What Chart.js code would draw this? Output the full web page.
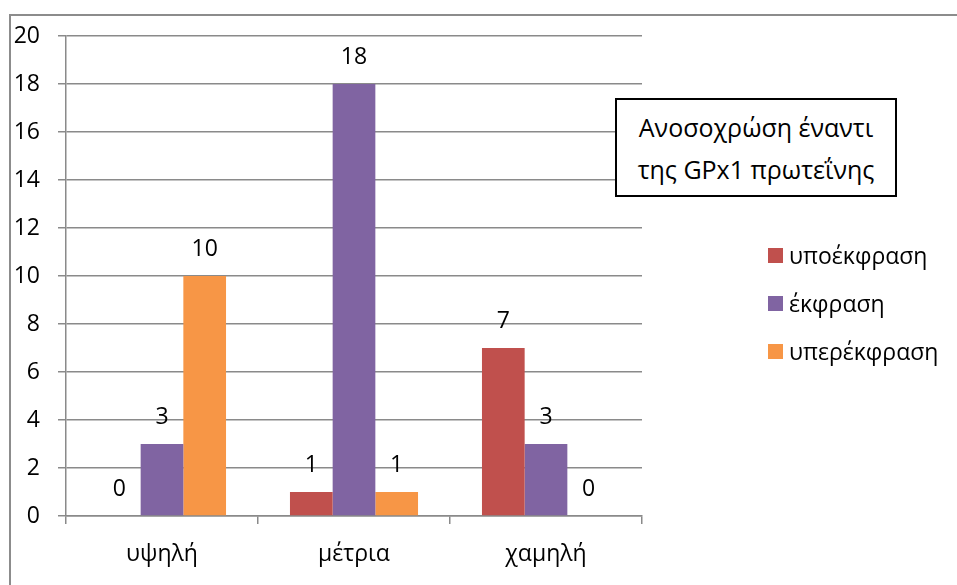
<!DOCTYPE html>
<html>
<head>
<meta charset="utf-8">
<script src="https://cdn.jsdelivr.net/npm/chart.js@4/dist/chart.umd.min.js"></script>
<style>
  body { margin: 0; background: #fff; font-family: "Open Sans", sans-serif; }
  #wrap { position: relative; width: 957px; height: 585px; overflow: hidden; }
  #frame { position: absolute; left: 9px; top: 14px; width: 1000px; height: 700px; border: 2px solid #8c8c8c; }
  #chart { position: absolute; left: 0; top: 0; }
  #title {
    position: absolute; left: 615px; top: 98px; width: 278px; height: 95px;
    border: 2px solid #000; background: #fff;
    display: flex; align-items: center; justify-content: center;
    text-align: center; font-size: 25px; line-height: 42px; color: #000;
  }
  #legend { position: absolute; left: 768px; top: 231px; }
  .item { display: flex; align-items: center; height: 48px; font-size: 23px; color: #000; }
  .sw { width: 15px; height: 15px; margin-right: 6px; }
</style>
</head>
<body>
<div id="wrap">
  <div id="frame"></div>
  <canvas id="chart" width="957" height="585"></canvas>
  <div id="title">Ανοσοχρώση έναντι<br>της GPx1 πρωτεΐνης</div>
  <div id="legend"></div>
</div>
<script>
// chart data
const categories = ["υψηλή", "μέτρια", "χαμηλή"];
const seriesNames = ["υποέκφραση", "έκφραση", "υπερέκφραση"];
const underExpr = [0, 1, 7];
const normalExpr = [3, 18, 3];
const overExpr = [10, 1, 0];
const seriesColors = ["#C0504D", "#8064A2", "#F79646"];

const FONT = "Open Sans";
const FONT_SIZE = 23;
const gridColor = "#8a8a8a";

// value labels above each bar
const valueLabels = {
  id: "valueLabels",
  afterDatasetsDraw(chart) {
    const ctx = chart.ctx;
    ctx.save();
    ctx.font = FONT_SIZE + 'px "' + FONT + '"';
    ctx.fillStyle = "#000";
    ctx.textAlign = "center";
    ctx.textBaseline = "middle";
    chart.data.datasets.forEach((ds, i) => {
      chart.getDatasetMeta(i).data.forEach((bar, j) => {
        ctx.fillText(ds.data[j], bar.x, bar.y - 27);
      });
    });
    ctx.restore();
  }
};

const seriesData = [underExpr, normalExpr, overExpr];

new Chart(document.getElementById("chart"), {
  type: "bar",
  data: {
    labels: categories,
    datasets: seriesNames.map((name, i) => ({
      label: name,
      data: seriesData[i],
      backgroundColor: seriesColors[i],
      borderWidth: 0,
      categoryPercentage: 0.667,
      barPercentage: 1
    }))
  },
  options: {
    responsive: false,
    animation: false,
    events: [],
    layout: { padding: { top: 36, right: 315, left: 0, bottom: 0 } },
    plugins: { legend: { display: false }, tooltip: { enabled: false } },
    scales: {
      x: {
        grid: { offset: true, drawOnChartArea: false, drawTicks: true, tickLength: 8, color: gridColor, lineWidth: 1.5 },
        border: { color: gridColor, width: 1.5 },
        ticks: { color: "#000", font: { family: FONT, size: FONT_SIZE }, padding: 17 },
        afterFit: s => { s.height = 69; }
      },
      y: {
        min: 0,
        max: 20,
        grid: { color: gridColor, lineWidth: 1.5, tickLength: 8 },
        border: { color: gridColor, width: 1.5 },
        ticks: { stepSize: 2, color: "#000", font: { family: FONT, size: FONT_SIZE }, padding: 18 },
        afterFit: s => { s.width = 66; }
      }
    }
  },
  plugins: [valueLabels]
});

// html legend
const legend = document.getElementById("legend");
seriesNames.forEach((name, i) => {
  const item = document.createElement("div");
  item.className = "item";
  item.innerHTML = '<span class="sw" style="background:' + seriesColors[i] + '"></span>' + name;
  legend.appendChild(item);
});
</script>
</body>
</html>
